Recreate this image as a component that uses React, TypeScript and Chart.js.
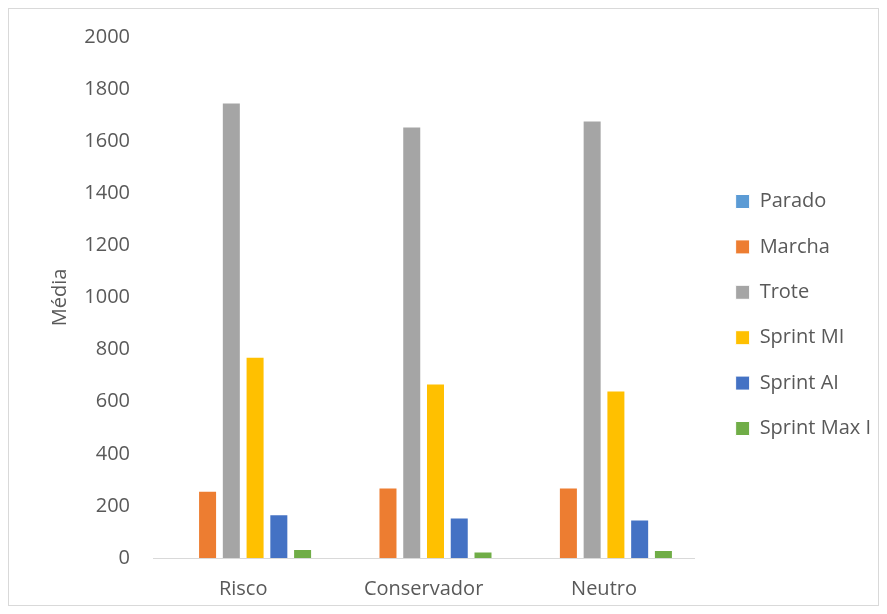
import React, { useEffect, useRef } from "react";
import { Chart, registerables } from "chart.js";

Chart.register(...registerables);

const categories = ["Risco", "Conservador", "Neutro"];
const seriesNames = ["Parado", "Marcha", "Trote", "Sprint MI", "Sprint AI", "Sprint Max I"];
const parado = [0, 0, 0];
const marcha = [258, 271, 271];
const trote = [1749, 1656, 1679];
const sprintMI = [773, 670, 643];
const sprintAI = [168, 155, 148];
const sprintMaxI = [35, 25, 31];
const colors = ["#5B9BD5", "#ED7D31", "#A5A5A5", "#FFC000", "#4472C4", "#70AD47"];
const yTicks = [0, 200, 400, 600, 800, 1000, 1200, 1400, 1600, 1800, 2000];

const FONT = "'Open Sans', sans-serif";
const TEXT = "#595959";
const LEGEND_SHIFT_X = 16;
const LEGEND_SHIFT_Y = -6;

const legendShift = {
  id: "legendShift",
  afterLayout(chart: any) {
    const lg = chart.legend;
    if (lg) {
      lg.left += LEGEND_SHIFT_X;
      lg.right += LEGEND_SHIFT_X;
      lg.top += LEGEND_SHIFT_Y;
      lg.bottom += LEGEND_SHIFT_Y;
    }
  },
};

export default function App() {
  const ref = useRef<HTMLCanvasElement | null>(null);
  useEffect(() => {
    if (!ref.current) return;
    const values = [parado, marcha, trote, sprintMI, sprintAI, sprintMaxI];
    const chart = new Chart(ref.current, {
      type: "bar",
      data: {
        labels: categories,
        datasets: seriesNames.map((name, i) => ({
          label: name,
          data: values[i],
          backgroundColor: colors[i],
          borderColor: "#FFFFFF",
          borderWidth: 1,
          categoryPercentage: 0.79,
          barPercentage: 0.8,
        })),
      },
      plugins: [legendShift],
      options: {
        animation: false,
        responsive: true,
        maintainAspectRatio: false,
        layout: { padding: { top: 28, right: 13, left: 0, bottom: 0 } },
        plugins: {
          tooltip: { enabled: false },
          legend: {
            position: "right",
            labels: {
              boxWidth: 14,
              boxHeight: 14,
              padding: 25.4,
              color: TEXT,
              font: { family: FONT, size: 20 },
            },
          },
        },
        scales: {
          x: {
            grid: { display: false, drawTicks: false },
            border: { display: true, color: "#D9D9D9", width: 1 },
            ticks: { color: TEXT, font: { family: FONT, size: 20 }, padding: 19 },
            afterFit: (s: any) => { s.height = 47; },
          },
          y: {
            min: 0,
            max: 2000,
            grid: { display: false, drawTicks: true, tickLength: 23 },
            border: { display: false },
            afterBuildTicks: (s: any) => { s.ticks = yTicks.map((v) => ({ value: v })); },
            ticks: {
              color: TEXT,
              font: { family: FONT, size: 20 },
              padding: 0,
              callback: (v: any) => String(v),
            },
            title: {
              display: true,
              text: "Média",
              color: TEXT,
              font: { family: FONT, size: 20 },
              padding: { top: 39, bottom: 0 },
            },
            afterFit: (s: any) => { s.width = 144; },
          },
        },
      },
    });
    return () => chart.destroy();
  }, []);
  return (
    <div style={{ width: 871, height: 598, border: "1px solid #D9D9D9", boxSizing: "border-box", background: "#fff" }}>
      <canvas ref={ref} />
    </div>
  );
}
